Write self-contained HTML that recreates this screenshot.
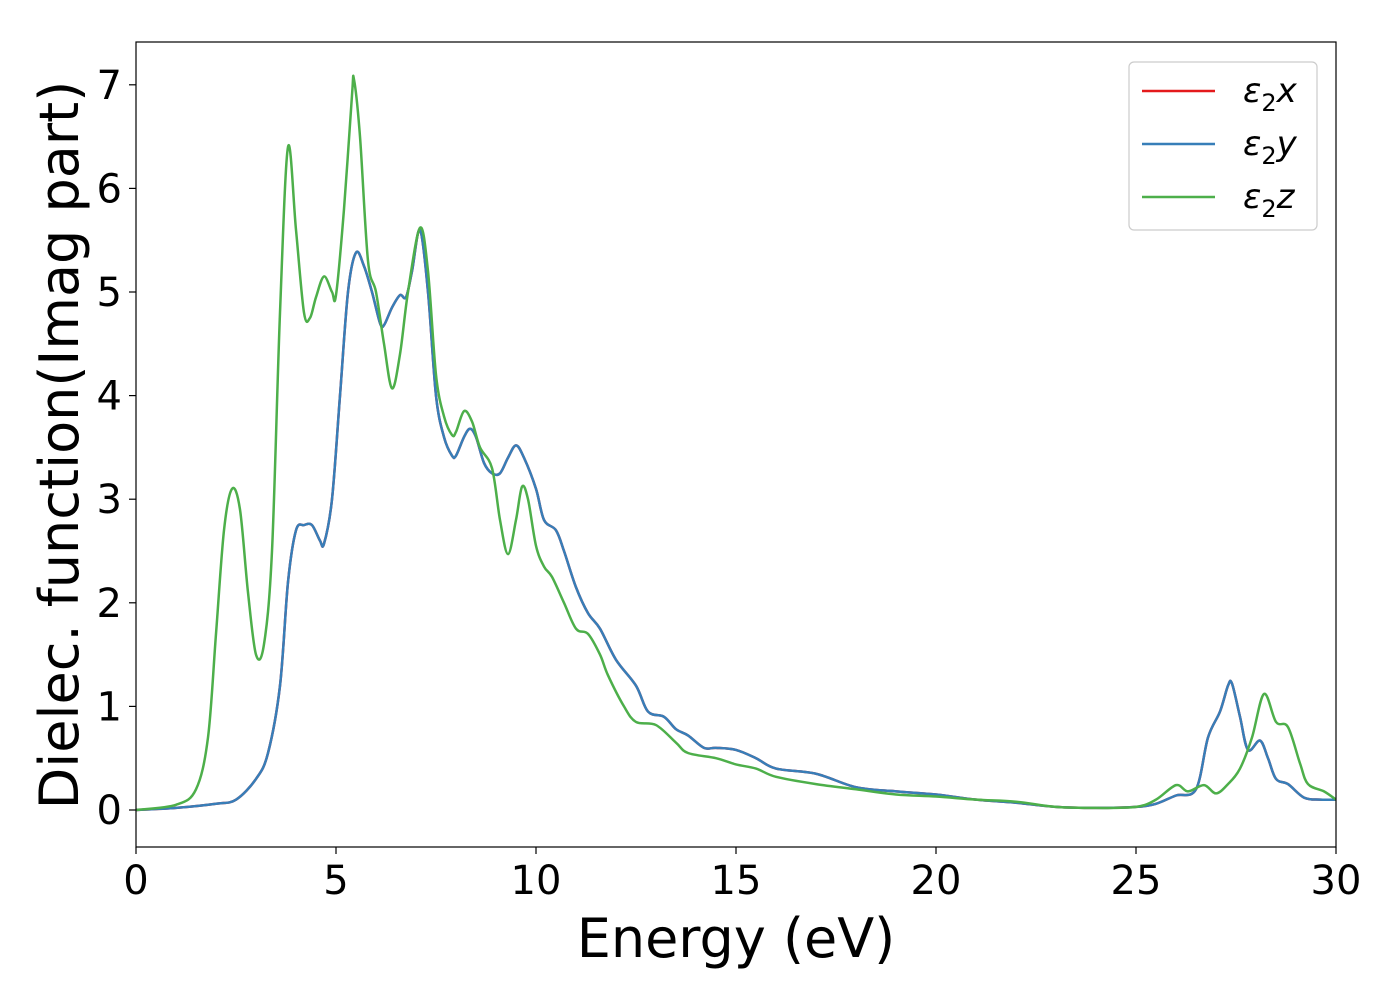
<!DOCTYPE html>
<html><head><meta charset="utf-8"><style>
html,body{margin:0;padding:0;background:#fff}
svg{display:block;font-family:"DejaVu Sans","Liberation Sans",sans-serif}
</style></head><body>
<svg id="chart" width="1400" height="1000" viewBox="0 0 1400 1000" xmlns="http://www.w3.org/2000/svg">
<defs><clipPath id="clip"><rect x="136" y="42" width="1200" height="805"/></clipPath></defs>
<rect x="136" y="42" width="1200" height="805" fill="#fff" stroke="none"/>
<g id="ticks"></g>
<g id="series" clip-path="url(#clip)"></g>
<rect x="136" y="42" width="1200" height="805" fill="none" stroke="#000" stroke-width="1.2"/>
<text x="736" y="957" font-size="54" text-anchor="middle">Energy (eV)</text>
<text transform="translate(78,445) rotate(-90)" font-size="54" text-anchor="middle">Dielec. function(Imag part)</text>
<g>
<rect x="1129" y="62" width="188" height="168" rx="5" fill="#fff" stroke="#ccc" stroke-width="1.2"/>
<line x1="1142" y1="91" x2="1215" y2="91" stroke="#e41a1c" stroke-width="2.5"/>
<text x="1243" y="102" font-size="34" font-style="italic">ε<tspan font-size="24" dy="9" font-style="normal">2</tspan><tspan dy="-9">x</tspan></text>
<line x1="1142" y1="144" x2="1215" y2="144" stroke="#377eb8" stroke-width="2.5"/>
<text x="1243" y="155" font-size="34" font-style="italic">ε<tspan font-size="24" dy="9" font-style="normal">2</tspan><tspan dy="-9">y</tspan></text>
<line x1="1142" y1="197" x2="1215" y2="197" stroke="#4daf4a" stroke-width="2.5"/>
<text x="1243" y="208" font-size="34" font-style="italic">ε<tspan font-size="24" dy="9" font-style="normal">2</tspan><tspan dy="-9">z</tspan></text>
</g>
</svg>
<script>
const xTicks=[0,5,10,15,20,25,30];
const yTicks=[0,1,2,3,4,5,6,7];
const energyXY=[0,1,2,2.5,3,3.3,3.6,3.8,4.0,4.2,4.4,4.6,4.7,4.9,5.1,5.3,5.5,5.7,5.9,6.1,6.2,6.4,6.6,6.75,6.9,7.1,7.3,7.5,7.7,7.9,8.0,8.2,8.35,8.5,8.7,8.9,9.1,9.3,9.5,9.7,10,10.2,10.5,10.7,11,11.3,11.6,12,12.5,12.8,13.2,13.5,13.8,14.2,14.5,15,15.5,16,17,18,19,20,21,22,23,24,25,25.5,26,26.5,26.8,27.1,27.3,27.4,27.6,27.8,28.1,28.3,28.5,28.8,29.2,29.6,30];
const eps2y=[0,0.02,0.06,0.1,0.3,0.55,1.2,2.2,2.7,2.75,2.75,2.6,2.57,3.0,4.0,5.0,5.38,5.25,5.0,4.7,4.68,4.85,4.97,4.95,5.2,5.6,5.0,4.0,3.6,3.42,3.42,3.6,3.68,3.6,3.35,3.25,3.25,3.4,3.52,3.4,3.1,2.8,2.7,2.5,2.15,1.9,1.75,1.45,1.2,0.95,0.9,0.78,0.72,0.6,0.6,0.58,0.5,0.4,0.35,0.22,0.18,0.15,0.1,0.07,0.03,0.02,0.03,0.06,0.14,0.2,0.7,0.95,1.2,1.22,0.9,0.58,0.67,0.5,0.3,0.25,0.12,0.1,0.1];
const eps2x=eps2y.slice();
const energyZ=[0,1,1.5,1.8,2.0,2.2,2.4,2.6,2.8,3.0,3.2,3.4,3.6,3.8,4.0,4.2,4.35,4.5,4.7,4.9,5.0,5.2,5.4,5.45,5.6,5.8,6.0,6.2,6.4,6.6,6.8,7.1,7.3,7.5,7.7,7.9,8.0,8.2,8.4,8.6,8.9,9.1,9.3,9.5,9.65,9.8,10,10.2,10.4,10.7,11,11.3,11.6,11.8,12.2,12.5,13,13.5,13.8,14.5,15,15.5,16,17,18,19,20,21,22,23,24,25,25.5,26,26.3,26.7,27,27.3,27.6,27.9,28.2,28.5,28.8,29.1,29.3,29.7,30];
const eps2z=[0,0.05,0.2,0.7,1.7,2.7,3.1,2.9,2.1,1.5,1.6,2.5,4.8,6.4,5.6,4.8,4.75,4.95,5.15,5.0,4.97,5.8,6.9,7.05,6.5,5.3,5.0,4.5,4.07,4.4,5.0,5.62,5.2,4.2,3.8,3.62,3.65,3.85,3.75,3.5,3.3,2.8,2.47,2.8,3.12,3.0,2.55,2.35,2.25,2.0,1.75,1.7,1.5,1.3,1.0,0.85,0.82,0.65,0.55,0.5,0.44,0.4,0.32,0.25,0.2,0.15,0.13,0.1,0.08,0.03,0.02,0.03,0.1,0.24,0.18,0.24,0.16,0.25,0.4,0.7,1.12,0.85,0.8,0.45,0.25,0.18,0.1];
const X=v=>136+v*40;
const Y=v=>810-v*103.6;
const NS="http://www.w3.org/2000/svg";
const tg=document.getElementById('ticks');
xTicks.forEach(t=>{
 const l=document.createElementNS(NS,'line');
 l.setAttribute('x1',X(t));l.setAttribute('x2',X(t));l.setAttribute('y1',847);l.setAttribute('y2',854);
 l.setAttribute('stroke','#000');l.setAttribute('stroke-width','1.2');
 
 
 tg.appendChild(l);
 const s=document.createElementNS(NS,'text');
 s.setAttribute('x',X(t));s.setAttribute('y',894);s.setAttribute('font-size','40');s.setAttribute('text-anchor','middle');
 s.textContent=t;
 
 
 tg.appendChild(s);
});
yTicks.forEach(t=>{
 const l=document.createElementNS(NS,'line');
 l.setAttribute('x1',129);l.setAttribute('x2',136);l.setAttribute('y1',Y(t));l.setAttribute('y2',Y(t));
 l.setAttribute('stroke','#000');l.setAttribute('stroke-width','1.2');
 
 
 tg.appendChild(l);
 const s=document.createElementNS(NS,'text');
 s.setAttribute('x',122);s.setAttribute('y',Y(t)+14);s.setAttribute('font-size','40');s.setAttribute('text-anchor','end');
 s.textContent=t;
 
 
 tg.appendChild(s);
});
function pathD(xs,ys){
 const p=xs.map((x,i)=>[X(x),Y(ys[i])]);
 let d='M'+p[0][0]+','+p[0][1];
 for(let i=0;i<p.length-1;i++){
  const p0=p[Math.max(0,i-1)],p1=p[i],p2=p[i+1],p3=p[Math.min(p.length-1,i+2)];
  const c1x=p1[0]+(p2[0]-p0[0])/6,c1y=p1[1]+(p2[1]-p0[1])/6;
  const c2x=p2[0]-(p3[0]-p1[0])/6,c2y=p2[1]-(p3[1]-p1[1])/6;
  d+=' C'+c1x+','+c1y+' '+c2x+','+c2y+' '+p2[0]+','+p2[1];
 }
 return d;
}
const sg=document.getElementById('series');
[[energyXY,eps2x,'#e41a1c','series-eps2x'],[energyXY,eps2y,'#377eb8','series-eps2y'],[energyZ,eps2z,'#4daf4a','series-eps2z']].forEach(s=>{
 const p=document.createElementNS(NS,'path');
 p.setAttribute('d',pathD(s[0],s[1]));
 p.setAttribute('fill','none');p.setAttribute('stroke',s[2]);p.setAttribute('stroke-width','2.5');
 
 
 sg.appendChild(p);
});
</script>
</body></html>
